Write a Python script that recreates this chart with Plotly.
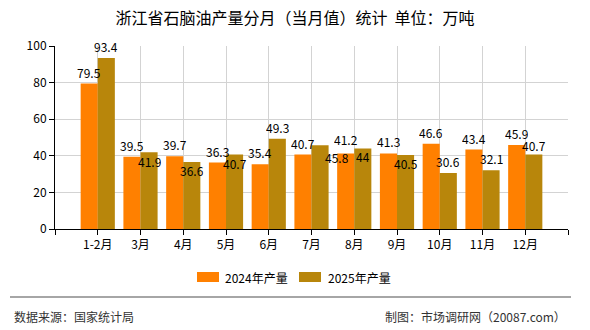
import plotly.graph_objects as go

months = ["1-2月", "3月", "4月", "5月", "6月", "7月", "8月", "9月", "10月", "11月", "12月"]
v2024 = [79.5, 39.5, 39.7, 36.3, 35.4, 40.7, 41.2, 41.3, 46.6, 43.4, 45.9]
v2025 = [93.4, 41.9, 36.6, 40.7, 49.3, 45.8, 44, 40.5, 30.6, 32.1, 40.7]
names = ["2024年产量", "2025年产量"]
yticks = [0, 20, 40, 60, 80, 100]

# label placement (pixel offsets, echarts-like collision avoidance)
dy2024 = [12, 12, 12, 12, 12, 12, 15, 12, 12, 12, 12]
dy2025 = [12, -9, -8, -8, 12, -12, -8, -8, 12, 12, 10]
dx2025 = [0, 0, 0, 0, 0, 17, 0, 0, 0, 0, 0]

C1 = "#FF8000"
C2 = "#B8860B"
colors = [C1, C2]
FONT = "Noto Sans CJK SC"
idx = list(range(len(months)))

W, H = 590, 330
L, R, T, B = 55, 22, 46, 101
PW, PH = W - L - R, H - T - B


def px(x):
    return (x - L) / PW


def py(y):
    return (H - B - y) / PH


fig = go.Figure()
fig.add_trace(go.Bar(x=idx, y=v2024, name=names[0], marker=dict(color=C1, line=dict(width=0)), showlegend=False))
fig.add_trace(go.Bar(x=idx, y=v2025, name=names[1], marker=dict(color=C2, line=dict(width=0)), showlegend=False))

bargap = 0.2
half = (1 - bargap) / 4
lab_font = dict(size=12, color="#000", family=FONT)
for i in idx:
    fig.add_annotation(x=i - half, y=v2024[i], text=f"{v2024[i]:g}", showarrow=False,
                       yshift=dy2024[i], yanchor="middle", height=12, borderpad=0, font=lab_font)
    fig.add_annotation(x=i + half, y=v2025[i], text=f"{v2025[i]:g}", showarrow=False,
                       yshift=dy2025[i], xshift=dx2025[i], yanchor="middle", height=12, borderpad=0,
                       font=lab_font)

fig.update_layout(
    width=W, height=H,
    margin=dict(l=L, r=R, t=T, b=B),
    paper_bgcolor="white", plot_bgcolor="white",
    barmode="group", bargap=bargap, bargroupgap=0,
    font=dict(family=FONT, size=12, color="#000"),
    title=dict(text="浙江省石脑油产量分月（当月值）统计  单位：万吨", x=0.5, xanchor="center",
               y=1 - 18 / H, yanchor="middle", font=dict(size=16, color="#000", family=FONT)),
    showlegend=False,
)
fig.update_xaxes(
    range=[-1, len(months)], tickmode="array",
    tickvals=[-1] + idx + [len(months)], ticktext=[""] + months + [""],
    showgrid=True, gridcolor="#d3d3d3", gridwidth=1,
    showline=True, linecolor="#000", linewidth=1,
    ticks="outside", ticklen=5, tickcolor="#000",
    tickfont=dict(size=12, color="#000"), zeroline=False, fixedrange=True,
)
fig.update_yaxes(
    range=[0, 100], tickvals=yticks,
    showgrid=True, gridcolor="#d3d3d3", gridwidth=1,
    showline=True, linecolor="#000", linewidth=1,
    ticks="outside", ticklen=5, tickcolor="#000",
    tickfont=dict(size=12, color="#000"), zeroline=False, fixedrange=True,
)

# legend (drawn manually to match wide rectangular swatches)
legend_items = [(197, 223), (299, 326)]
for (sx, tx), name, col in zip(legend_items, names, colors):
    fig.add_shape(type="rect", xref="paper", yref="paper",
                  x0=px(sx), x1=px(sx + 22), y0=py(272), y1=py(282),
                  fillcolor=col, line=dict(width=0))
    fig.add_annotation(xref="paper", yref="paper", x=px(tx), y=py(277),
                       xanchor="left", yanchor="middle", showarrow=False,
                       text=name, font=dict(size=12, color="#000", family=FONT))

# footer
fig.add_shape(type="line", xref="paper", yref="paper",
              x0=px(10), x1=px(571), y0=py(297), y1=py(297),
              line=dict(color="#888", width=1.5))
fig.add_annotation(xref="paper", yref="paper", x=px(12), y=py(316),
                   xanchor="left", yanchor="middle", showarrow=False,
                   text="数据来源：国家统计局", font=dict(size=12, color="#333", family=FONT))
fig.add_annotation(xref="paper", yref="paper", x=px(568), y=py(316),
                   xanchor="right", yanchor="middle", showarrow=False,
                   text="制图：市场调研网（20087.com）", font=dict(size=12, color="#333", family=FONT))

fig.write_html("out.html")
